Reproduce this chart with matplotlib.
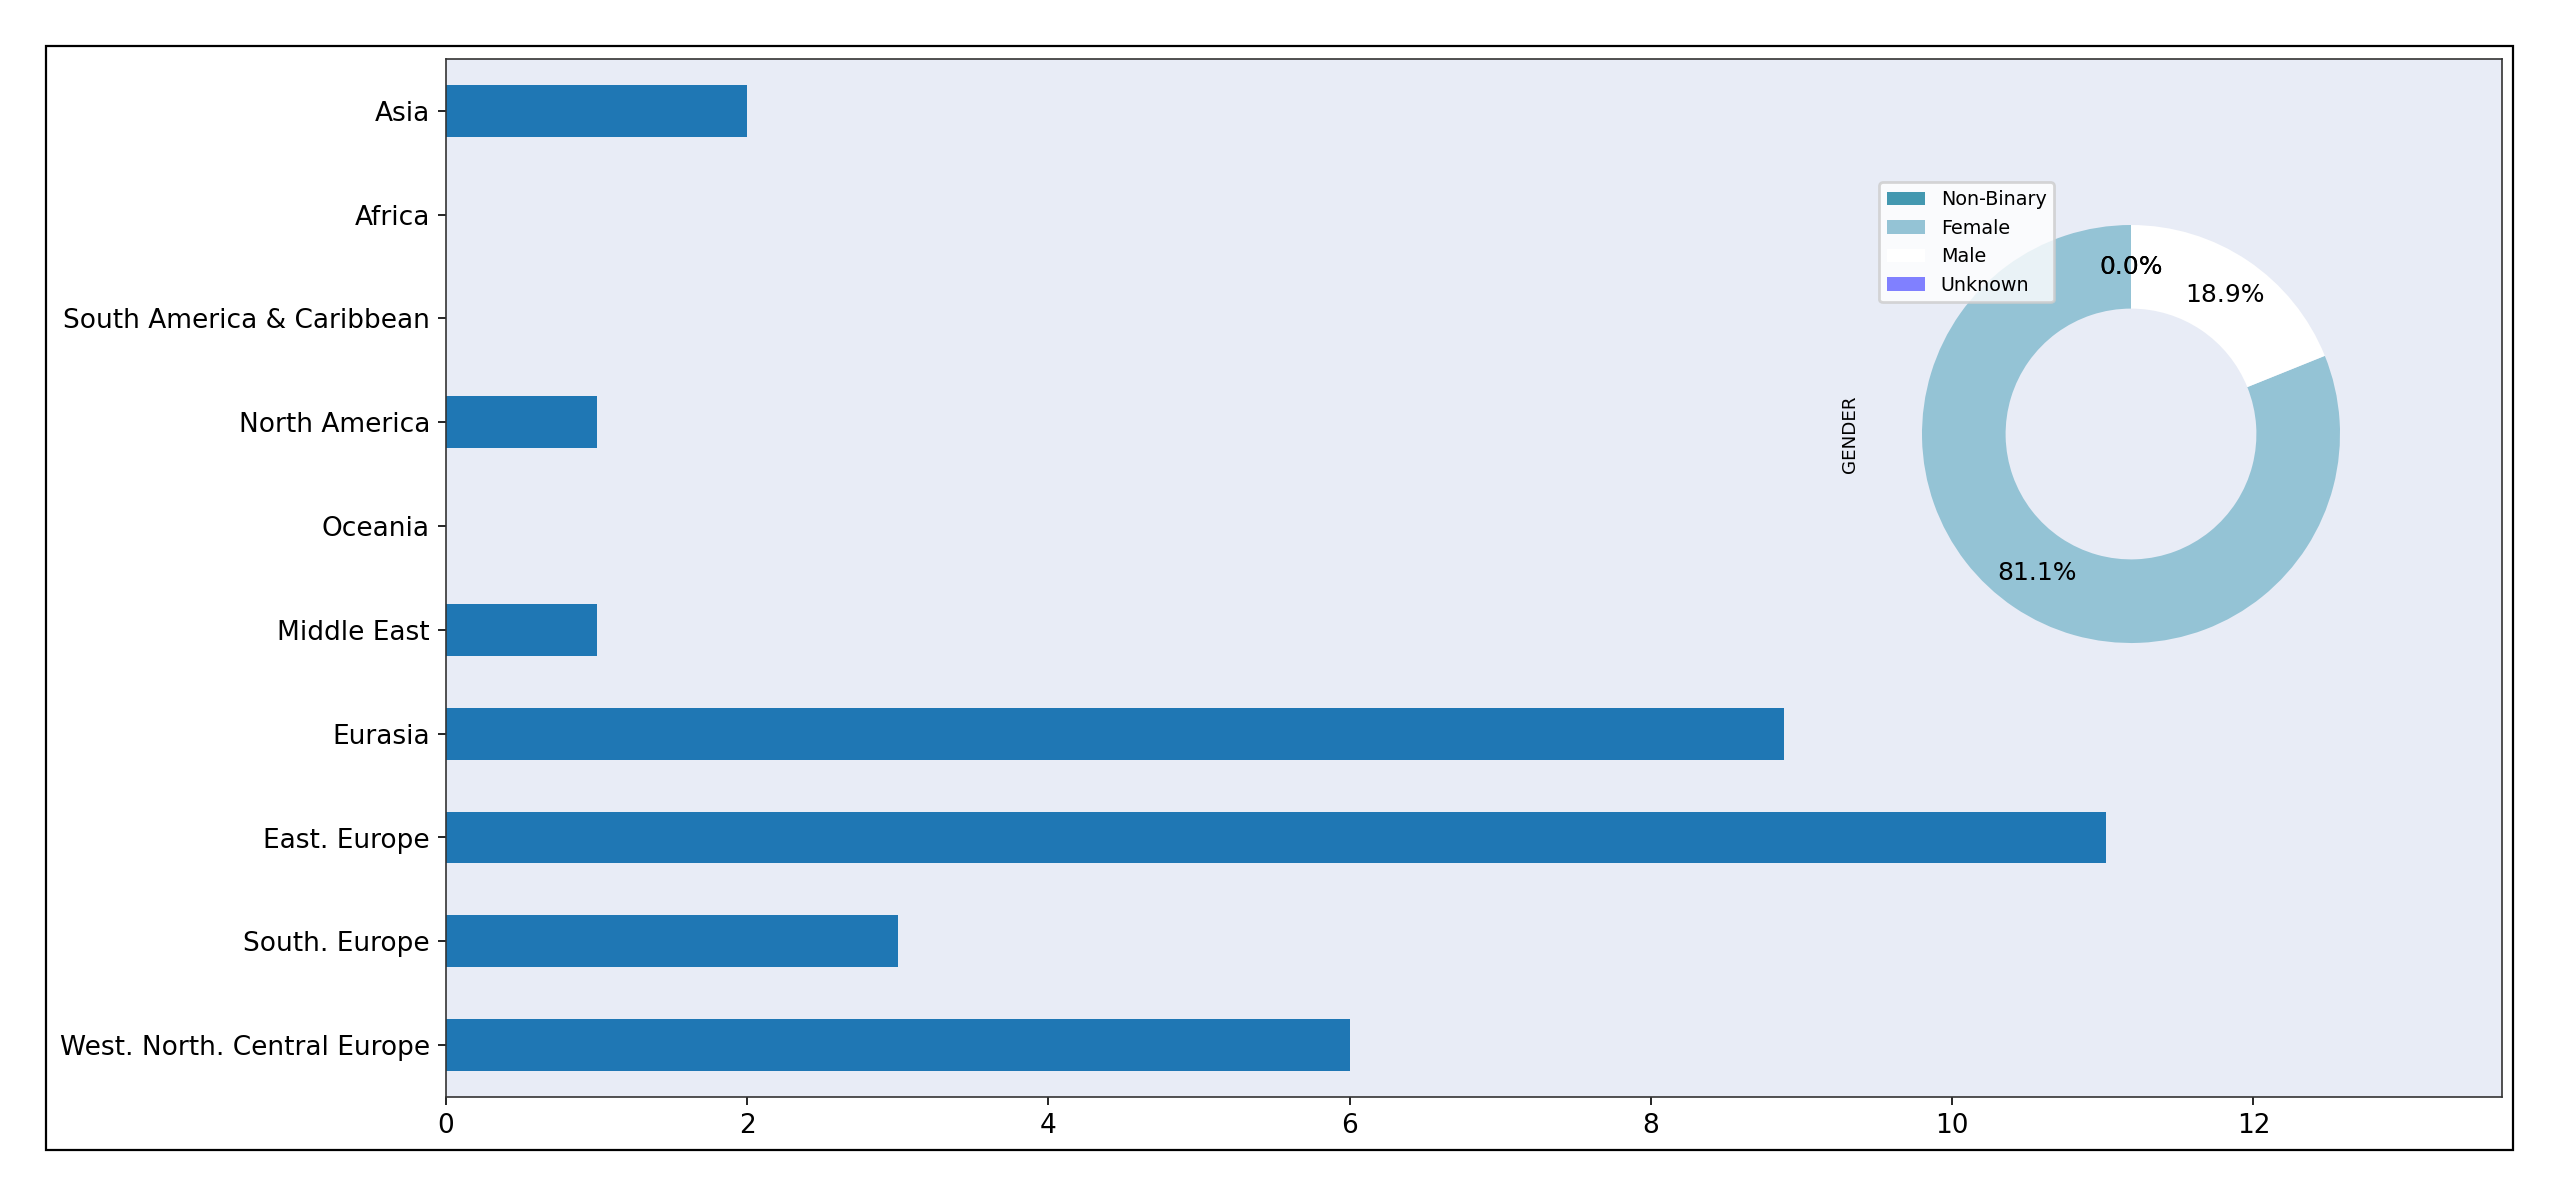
import matplotlib
matplotlib.use("Agg")
from matplotlib import pyplot as plt
from matplotlib.patches import Rectangle

# Region counts (bottom to top, as drawn)
regions = ["West. North. Central Europe", "South. Europe", "East. Europe", "Eurasia",
           "Middle East", "Oceania", "North America", "South America & Caribbean",
           "Africa", "Asia"]
region_values = [6, 3, 11.02, 8.88, 1, 0, 1, 0, 0, 2]

# Gender split for the donut
genders = ["Non-Binary", "Female", "Male", "Unknown"]
gender_values = [0.0, 81.1, 18.9, 0.0]
gender_colors = ["#4398b0", "#94c3d5", "#ffffff", "#8080ff"]

W, H = 2560, 1197
fig = plt.figure(figsize=(12.8, 5.985), dpi=200)

# outer frame
fig.patches.append(Rectangle((46 / W, 1 - 1150 / H), (2513 - 46) / W, (1150 - 46) / H,
                             transform=fig.transFigure, fill=False, edgecolor="black",
                             linewidth=0.8))

ax = fig.add_axes([446 / W, 1 - 1097 / H, (2502 - 446) / W, (1097 - 59) / H])
ax.set_facecolor("#e8ecf6")
ax.barh(range(len(regions)), region_values, height=0.5, color="#1f77b4")
ax.set_yticks(range(len(regions)))
ax.set_yticklabels(regions)
ax.set_ylim(-0.5, len(regions) - 0.5)
ax.set_xlim(0, 13.65)
ax.set_xticks([0, 2, 4, 6, 8, 10, 12])
ax.tick_params(labelsize=9.5, length=2.8, pad=3, width=0.6)
for s in ax.spines.values():
    s.set_color("#333333")
    s.set_linewidth(0.6)

# donut inset
cx, cy, r = 2131, 434, 209
side = 2.5 * r
pax = fig.add_axes([(cx - side / 2) / W, 1 - (cy + side / 2) / H, side / W, side / H])
pax.patch.set_alpha(0)
wedges, texts, autotexts = pax.pie(gender_values, colors=gender_colors, startangle=90,
                                   autopct="%1.1f%%", pctdistance=0.8,
                                   wedgeprops=dict(width=0.4),
                                   textprops=dict(fontsize=9))
pax.set_aspect("equal")
pax.set_ylabel("GENDER", fontsize=6.6)
pax.legend(wedges, genders, loc="upper left", fontsize=6.9, framealpha=0.8)

fig.savefig("out.png", dpi=200)
